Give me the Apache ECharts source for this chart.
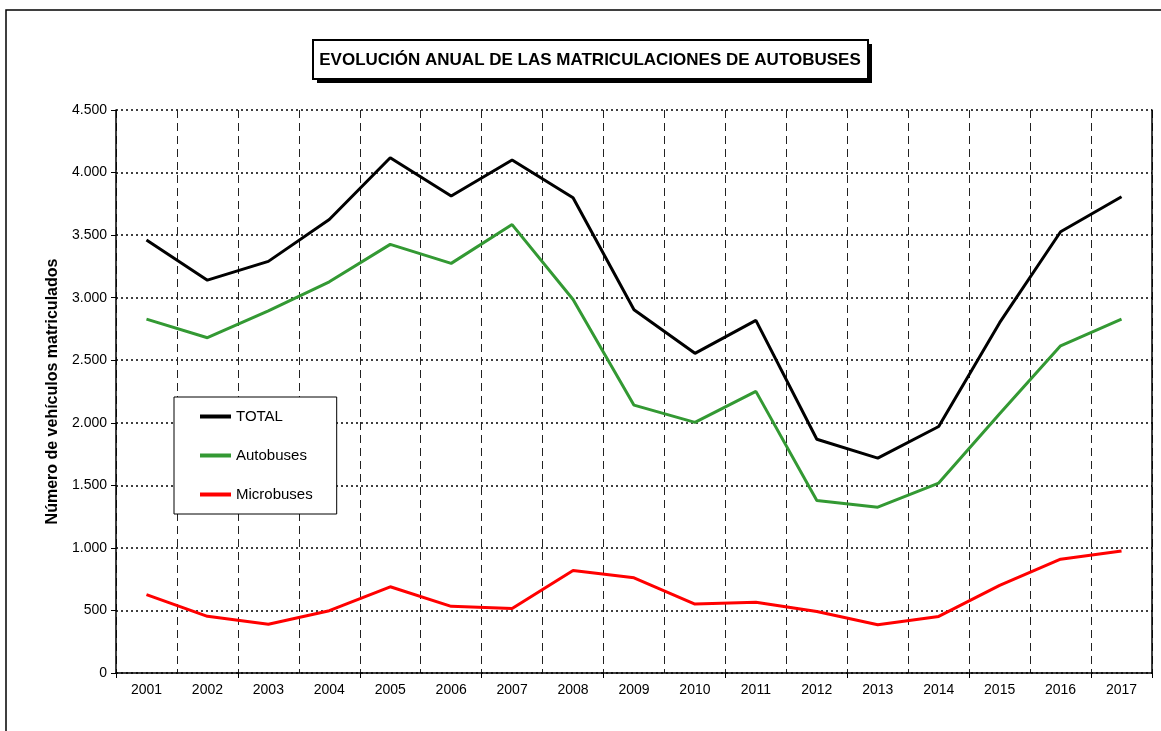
<!DOCTYPE html>
<html>
<head>
<meta charset="utf-8">
<script src="https://cdn.jsdelivr.net/npm/echarts@6/dist/echarts.min.js"></script>
<style>
  html, body { margin: 0; padding: 0; background: #fff; }
  #main { width: 1161px; height: 731px; }
</style>
</head>
<body>
<div id="main"></div>
<script>
// datos
var years = ['2001','2002','2003','2004','2005','2006','2007','2008','2009','2010','2011','2012','2013','2014','2015','2016','2017'];
var total = [3460, 3140, 3290, 3625, 4118, 3812, 4100, 3798, 2903, 2555, 2818, 1868, 1717, 1970, 2800, 3527, 3807];
var autobuses = [2828, 2680, 2895, 3127, 3426, 3274, 3584, 2985, 2141, 2003, 2251, 1378, 1325, 1518, 2072, 2615, 2828];
var microbuses = [627, 453, 390, 498, 689, 533, 515, 820, 761, 551, 565, 492, 385, 452, 700, 910, 975];
var yTicks = [0, 500, 1000, 1500, 2000, 2500, 3000, 3500, 4000, 4500];
var titulo = 'EVOLUCIÓN ANUAL DE LAS MATRICULACIONES DE AUTOBUSES';

var fuente = 'Arial, "Liberation Sans", sans-serif';
var chart = echarts.init(document.getElementById('main'));

function miles(v) {
    // 4500 -> 4.500
    return String(v).replace(/\B(?=(\d{3})+(?!\d))/g, '.');
}

var option = {
    backgroundColor: '#fff',
    animation: false,
    textStyle: { fontFamily: fuente, color: '#000' },
    legend: {
        orient: 'vertical',
        left: 174,
        top: 397,
        padding: [12, 24, 12, 26],
        icon: 'rect',
        itemWidth: 31,
        itemHeight: 4,
        itemGap: 24,
        backgroundColor: '#fff',
        borderColor: '#000',
        borderWidth: 1,
        textStyle: { fontSize: 15, color: '#000', fontFamily: fuente },
        data: ['TOTAL', 'Autobuses', 'Microbuses']
    },
    grid: {
        left: 116,
        right: 9,
        top: 110,
        bottom: 58
    },
    xAxis: {
        type: 'category',
        boundaryGap: true,
        data: years,
        axisLine: { lineStyle: { color: '#000', width: 1.5 } },
        axisTick: { show: true, interval: 1, length: 5, lineStyle: { color: '#000' } },
        axisLabel: { color: '#000', fontSize: 14, margin: 10, interval: 0 },
        splitLine: { show: true, interval: 0, lineStyle: { color: '#222', width: 1, type: [8, 5] } }
    },
    yAxis: [{
        type: 'value',
        min: 0,
        max: 4500,
        interval: 500,
        name: 'Número de vehículos matriculados',
        nameLocation: 'middle',
        nameGap: 47,
        nameRotate: 90,
        nameTextStyle: { fontSize: 16, fontWeight: 'bold', color: '#000' },
        axisLine: { show: true, lineStyle: { color: '#000', width: 1.5 } },
        axisTick: { show: true, length: 5, lineStyle: { color: '#000' } },
        axisLabel: {
            color: '#000', fontSize: 14, margin: 9,
            formatter: function (v) { return miles(v); }
        },
        splitLine: { show: true, lineStyle: { color: '#000', width: 1.5, type: [2, 3] } }
    }, {
        // borde derecho del area
        type: 'value',
        position: 'right',
        min: 0,
        max: 4500,
        interval: 500,
        axisLine: { show: true, lineStyle: { color: '#000', width: 1.5 } },
        axisTick: { show: false },
        axisLabel: { show: false },
        splitLine: { show: false }
    }],
    graphic: [
        {
            type: 'rect',
            shape: { x: 6, y: 10, width: 1200, height: 800 },
            style: { fill: 'none', stroke: '#000', lineWidth: 1.5 },
            z: -1
        },
        // recuadro del titulo con sombra
        {
            type: 'rect',
            shape: { x: 317, y: 44, width: 555, height: 39 },
            style: { fill: '#000' }
        },
        {
            type: 'rect',
            shape: { x: 313, y: 40, width: 555, height: 39 },
            style: { fill: '#fff', stroke: '#000', lineWidth: 2 }
        },
        {
            type: 'text',
            x: 590,
            y: 60,
            style: {
                text: titulo,
                fill: '#000',
                font: 'bold 17px ' + fuente,
                textAlign: 'center',
                textVerticalAlign: 'middle'
            }
        }
    ],
    series: [
        {
            name: 'TOTAL',
            type: 'line',
            data: total,
            symbol: 'none',
            lineStyle: { color: '#000', width: 3 },
            itemStyle: { color: '#000' }
        },
        {
            name: 'Autobuses',
            type: 'line',
            data: autobuses,
            symbol: 'none',
            lineStyle: { color: '#339933', width: 3 },
            itemStyle: { color: '#339933' }
        },
        {
            name: 'Microbuses',
            type: 'line',
            data: microbuses,
            symbol: 'none',
            lineStyle: { color: '#ff0000', width: 3 },
            itemStyle: { color: '#ff0000' }
        }
    ]
};

chart.setOption(option);
</script>
</body>
</html>
